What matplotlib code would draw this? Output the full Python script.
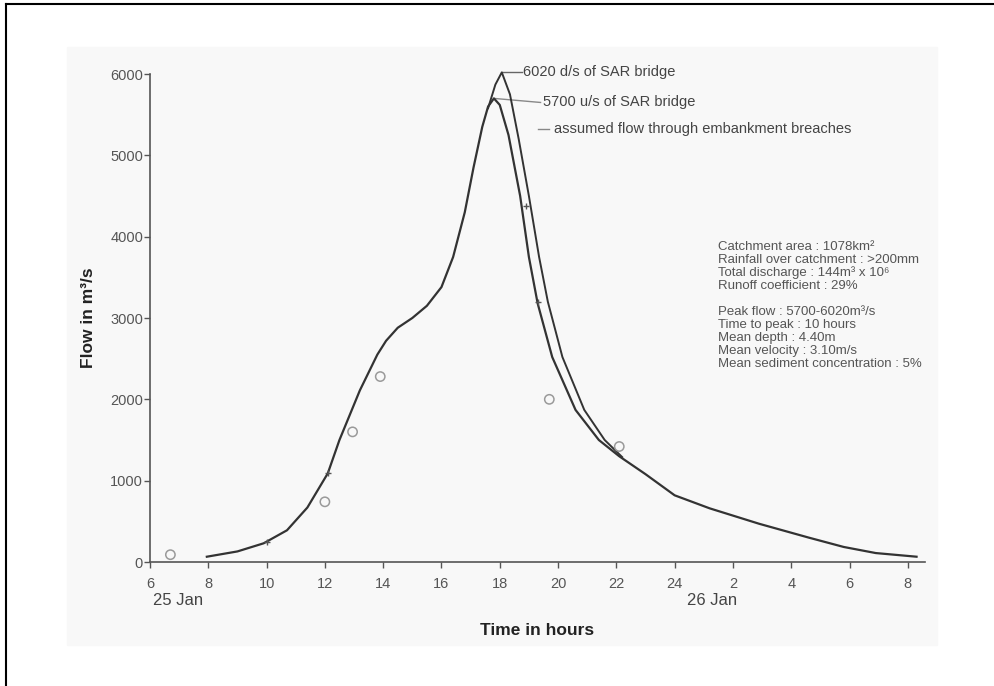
import numpy as np
import matplotlib.pyplot as plt
from matplotlib.lines import Line2D
from matplotlib.patches import Rectangle

plt.rcParams['font.family'] = ['Liberation Sans Narrow', 'Liberation Sans', 'DejaVu Sans']

# flow hydrograph, u/s of SAR bridge (hours from 0:00 on 25 Jan)
us_hours = [7.95, 9.0, 9.9, 10.7, 11.4, 12.1, 12.5, 13.2, 13.8, 14.1, 14.5, 15.0, 15.5, 16.0,
            16.4, 16.8, 17.1, 17.4, 17.6, 17.8, 18.0, 18.3, 18.7, 19.0, 19.3, 19.8, 20.6, 21.4,
            22.1, 23.0, 24.0, 25.2, 26.9, 28.6, 29.8, 30.9, 32.3]
us_flow = [65, 130, 230, 390, 670, 1090, 1500, 2110, 2550, 2720, 2880, 3000, 3150, 3380,
           3750, 4300, 4850, 5350, 5600, 5700, 5620, 5250, 4500, 3750, 3180, 2520, 1870, 1500,
           1300, 1080, 820, 660, 470, 300, 185, 110, 65]

# d/s of SAR bridge
ds_hours = [17.6, 17.85, 18.07, 18.35, 18.65, 19.0, 19.35, 19.65, 20.15, 20.9, 21.6, 22.2]
ds_flow = [5580, 5870, 6020, 5750, 5200, 4500, 3750, 3200, 2520, 1870, 1500, 1290]

# observed points (open circles)
obs_hours = [6.7, 12.0, 12.95, 13.9, 19.7, 22.1]
obs_flow = [90, 740, 1600, 2280, 2000, 1420]

# small marks on the curves
mark_hours = [10.0, 12.1, 18.9, 19.3]
mark_flow = [240, 1100, 4380, 3200]

tick_pos = [6, 8, 10, 12, 14, 16, 18, 20, 22, 24, 26, 28, 30, 32]
tick_lab = ['6', '8', '10', '12', '14', '16', '18', '20', '22', '24', '2', '4', '6', '8']
y_ticks = [0, 1000, 2000, 3000, 4000, 5000, 6000]

info_lines = ['Catchment area : 1078km\u00b2',
              'Rainfall over catchment : >200mm',
              'Total discharge : 144m\u00b3 x 10\u2076',
              'Runoff coefficient : 29%',
              '',
              'Peak flow : 5700-6020m\u00b3/s',
              'Time to peak : 10 hours',
              'Mean depth : 4.40m',
              'Mean velocity : 3.10m/s',
              'Mean sediment concentration : 5%']

fig = plt.figure(figsize=(9.95, 6.86), dpi=100)
bg = Rectangle((67 / 995, 1 - 645 / 686), 870 / 995, 598 / 686,
               transform=fig.transFigure, color='#f8f8f8', zorder=-5)
fig.add_artist(bg)
fig.add_artist(Line2D([6 / 995, 1], [1 - 4 / 686, 1 - 4 / 686], color='k', lw=1.5))
fig.add_artist(Line2D([6 / 995, 6 / 995], [0, 1 - 4 / 686], color='k', lw=1.5))

ax = fig.add_axes([150 / 995, 124 / 686, 775 / 995, 488 / 686])
ax.set_zorder(2)
ax.patch.set_alpha(0)
ax.set_xlim(6, 32.59)
ax.set_ylim(0, 6000)

lc = '#333333'
ax.plot(us_hours, us_flow, color=lc, lw=1.6, clip_on=False, zorder=3)
ax.plot(ds_hours, ds_flow, color=lc, lw=1.4, clip_on=False, zorder=3)
ax.scatter(obs_hours, obs_flow, s=45, facecolors='none', edgecolors='#9a9a9a', linewidths=1.1,
           clip_on=False, zorder=4)
ax.scatter(mark_hours, mark_flow, s=14, marker='+', color='#555555', linewidths=1, zorder=4)

for s in ['top', 'right']:
    ax.spines[s].set_visible(False)
for s in ['left', 'bottom']:
    ax.spines[s].set_color('#555555')
    ax.spines[s].set_linewidth(1.2)

ax.set_xticks(tick_pos)
ax.set_xticklabels(tick_lab)
ax.set_yticks(y_ticks)
ax.tick_params(colors='#555555', labelsize=10.5, length=4, width=1)
ax.tick_params(axis='x', pad=7)
ax.tick_params(axis='y', pad=1)

ax.text(6.1, -380, '25 Jan', ha='left', va='top', fontsize=12, color='#444444')
ax.text(25.3, -380, '26 Jan', ha='center', va='top', fontsize=12, color='#444444')
ax.set_xlabel('Time in hours', fontsize=12.5, fontweight='bold', color='#222222', labelpad=23)
ax.set_ylabel('Flow in m\u00b3/s', fontsize=12.5, fontweight='bold', color='#222222', labelpad=10)

# peak annotations
ax.plot([18.07, 18.75], [6020, 6020], color='#666666', lw=1, clip_on=False)
ax.text(18.8, 6020, '6020 d/s of SAR bridge', va='center', fontsize=10.5, color='#444444')
ax.plot([17.8, 19.4], [5700, 5650], color='#888888', lw=1, clip_on=False)
ax.text(19.5, 5650, '5700 u/s of SAR bridge', va='center', fontsize=10.5, color='#444444')
ax.plot([19.3, 19.7], [5320, 5320], color='#888888', lw=1, clip_on=False)
ax.text(19.85, 5320, 'assumed flow through embankment breaches', va='center', fontsize=10.5,
        color='#444444')

ax.text(25.5, 3950, '\n'.join(info_lines), va='top', ha='left', fontsize=9.5, color='#555555',
        linespacing=1.1)

fig.savefig('out.png', dpi=100)
